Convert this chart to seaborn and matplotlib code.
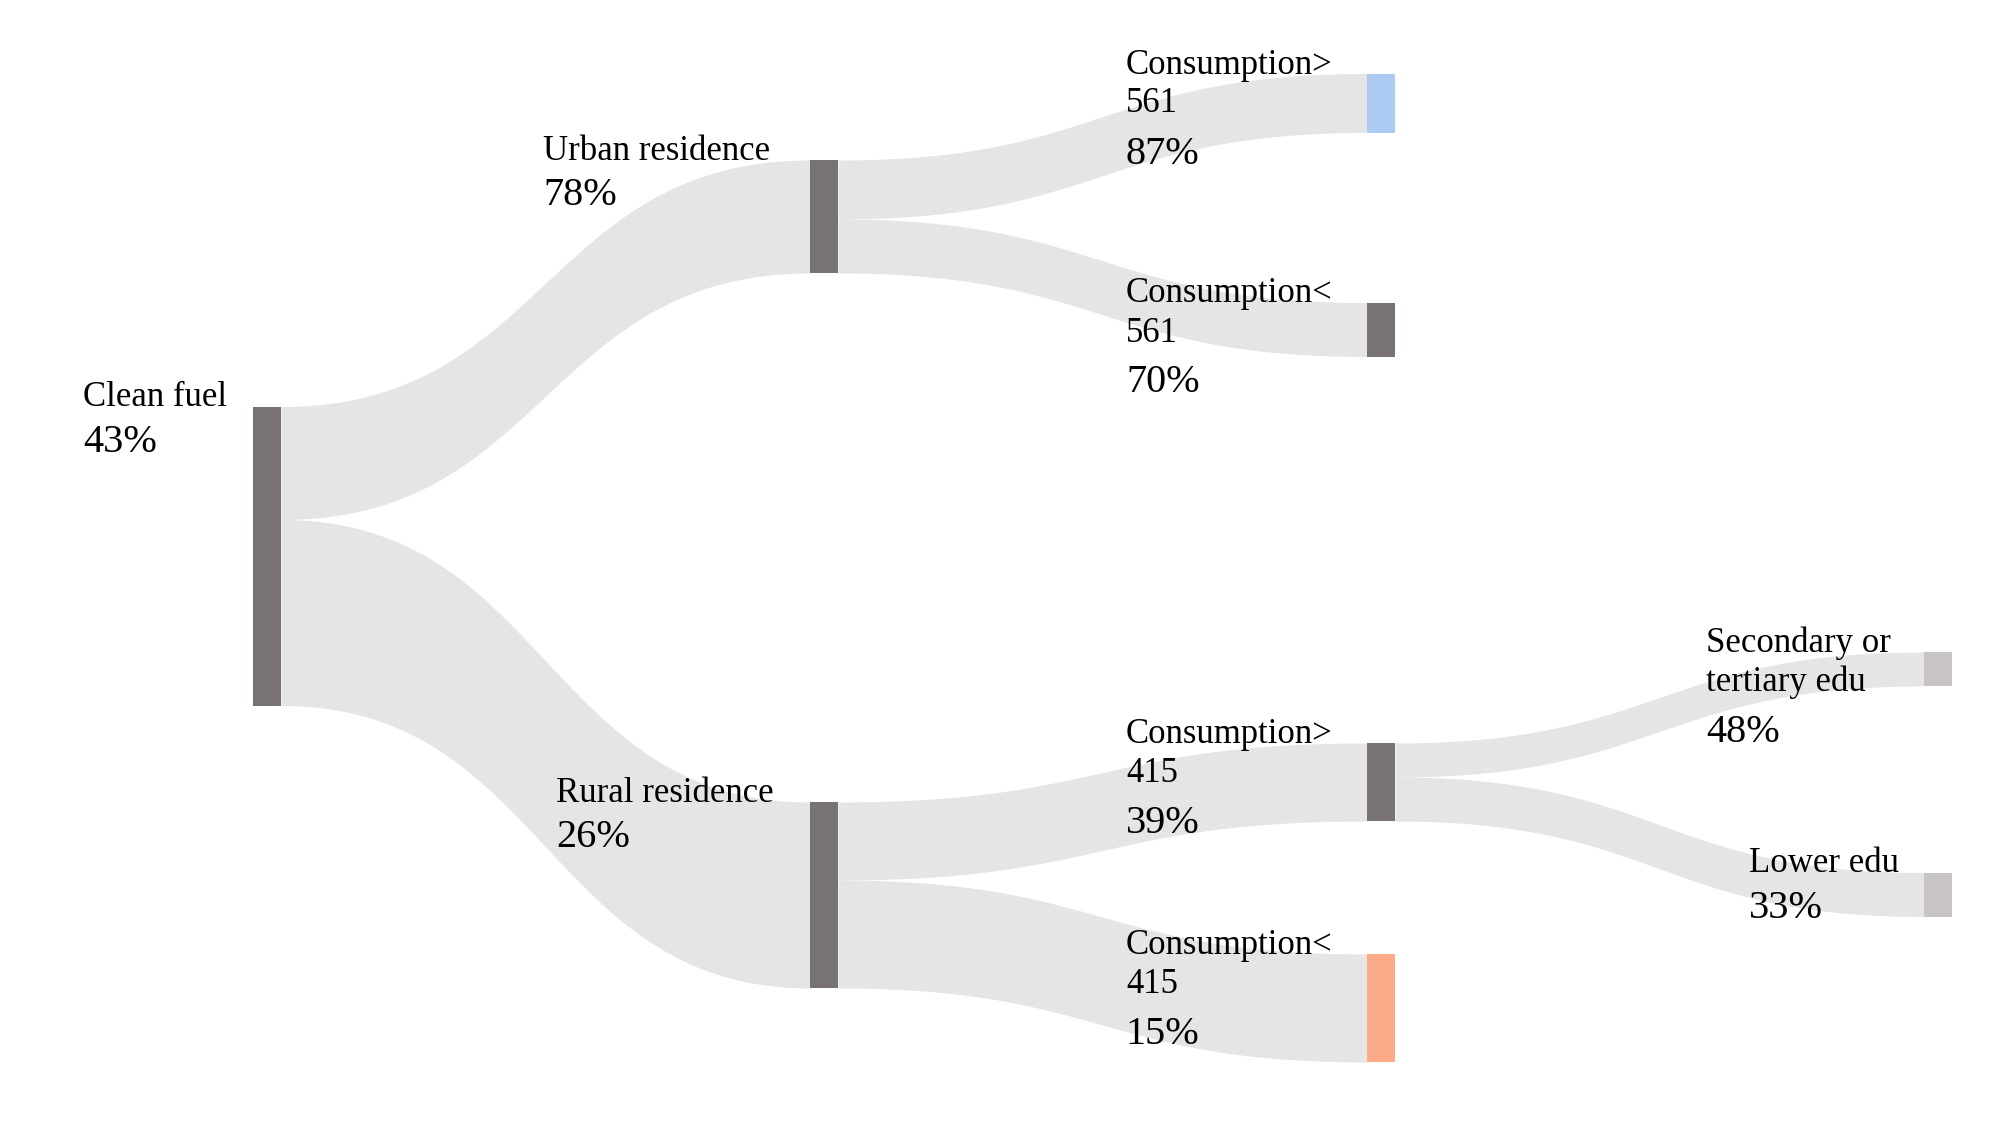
import numpy as np
import seaborn as sns
from matplotlib import pyplot as plt

# nodes of the tree
node_names = ["Clean fuel", "Urban residence", "Rural residence",
              "Consumption>\n561", "Consumption<\n561",
              "Consumption>\n415", "Consumption<\n415",
              "Secondary or\ntertiary edu", "Lower edu"]
node_pcts = ["43%", "78%", "26%", "87%", "70%", "39%", "15%", "48%", "33%"]

# links (source -> target, flow size)
link_src = [0, 0, 1, 1, 2, 2, 5, 5]
link_tgt = [1, 2, 3, 4, 5, 6, 7, 8]
link_val = [113, 186, 59, 54, 78, 108, 34, 44]

# layout of the nodes (pixel space of the figure)
node_col = [0, 1, 1, 2, 2, 2, 2, 3, 3]
node_yc = [556, 216.5, 895, 103, 329.5, 782, 1008, 669, 894.5]
node_colors = ["#787272", "#787272", "#787272", "#abcbf2", "#787272",
               "#787272", "#fcab88", "#c8c3c4", "#c8c3c4"]
label_dx = [170, 267, 254, 241, 241, 241, 241, 218, 175]

W, H = 1999, 1123
COL_X0, COL_STEP, NODE_W = 253, 557, 28
LINK_COLOR = "#e5e5e5"


def bezier_edge(x0, y0, x1, y1, n=200):
    t = np.linspace(0, 1, n)
    xm = (x0 + x1) / 2
    x = (1 - t) ** 3 * x0 + 3 * (1 - t) ** 2 * t * xm + 3 * (1 - t) * t ** 2 * xm + t ** 3 * x1
    y = (1 - t) ** 3 * y0 + 3 * (1 - t) ** 2 * t * y0 + 3 * (1 - t) * t ** 2 * y1 + t ** 3 * y1
    return x, y


def draw_sankey():
    sns.set_style("white")
    plt.rcParams['font.family'] = ['Liberation Serif', 'DejaVu Serif']

    fig = plt.figure(figsize=(W / 100, H / 100), dpi=100)
    ax = fig.add_axes([0, 0, 1, 1])
    ax.set_xlim(0, W)
    ax.set_ylim(H, 0)
    ax.axis("off")

    n = len(node_names)
    size = [0.0] * n
    for s, t, v in zip(link_src, link_tgt, link_val):
        size[t] += v
    for i in range(n):
        out = sum(v for s, v in zip(link_src, link_val) if s == i)
        size[i] = max(size[i], out)

    x_left = [COL_X0 + COL_STEP * c for c in node_col]
    y_top = [yc - sz / 2 for yc, sz in zip(node_yc, size)]

    out_off = list(y_top)
    in_off = list(y_top)
    for s, t, v in zip(link_src, link_tgt, link_val):
        x0 = x_left[s] + NODE_W
        x1 = x_left[t]
        xa, ya = bezier_edge(x0, out_off[s], x1, in_off[t])
        xb, yb = bezier_edge(x0, out_off[s] + v, x1, in_off[t] + v)
        ax.fill_between(xa, ya, yb, color=LINK_COLOR, lw=0, zorder=1)
        out_off[s] += v
        in_off[t] += v

    for i in range(n):
        ax.add_patch(plt.Rectangle((x_left[i], y_top[i]), NODE_W, size[i],
                                   color=node_colors[i], lw=0, zorder=2))
        lines = node_names[i].split("\n")
        lx = x_left[i] - label_dx[i]
        base = y_top[i]
        for k, line in enumerate(lines):
            ax.text(lx, base + 39 * k, line, fontsize=25, ha="left",
                    va="baseline", color="black", zorder=3)
        last = base + 39 * (len(lines) - 1)
        gap = 45 if len(lines) == 1 else 51
        ax.text(lx, last + gap, node_pcts[i], fontsize=29, ha="left",
                va="baseline", color="black", zorder=3)

    fig.savefig("out.png", dpi=100)


draw_sankey()
